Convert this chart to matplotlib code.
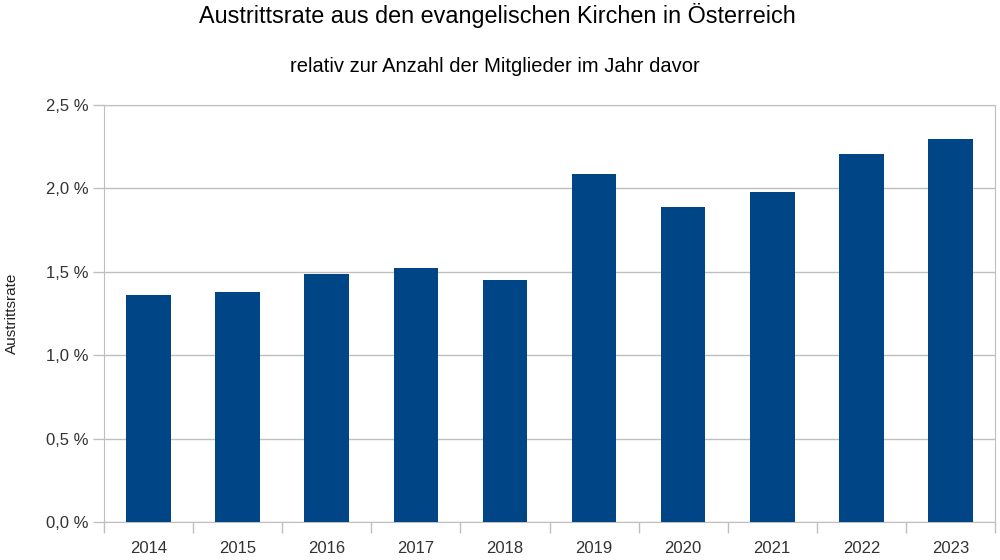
import matplotlib.pyplot as plt
import numpy as np

plt.rcParams['font.family'] = ['Liberation Sans', 'DejaVu Sans']

years = ['2014', '2015', '2016', '2017', '2018', '2019', '2020', '2021', '2022', '2023']
rate = [1.363, 1.380, 1.484, 1.520, 1.450, 2.083, 1.889, 1.977, 2.203, 2.295]
yticks = [0.0, 0.5, 1.0, 1.5, 2.0, 2.5]
ytick_labels = ['0,0 %', '0,5 %', '1,0 %', '1,5 %', '2,0 %', '2,5 %']

fig = plt.figure(figsize=(10, 5.6), dpi=100)
ax = fig.add_axes([0.104, 0.068, 0.891, 0.7446])

x = np.arange(len(years))
ax.bar(x, rate, width=0.5, color='#004586', zorder=3)

ax.set_xlim(-0.5, len(years) - 0.5)
ax.set_ylim(0, 2.5)
ax.set_yticks(yticks)
ax.set_yticklabels(ytick_labels, fontsize=12, color='#333333')
ax.set_xticks(x)
ax.set_xticklabels(years, fontsize=12, color='#333333')
ax.set_xticks(np.arange(-0.5, len(years)), minor=True)
ax.tick_params(axis='x', which='major', length=0, pad=14)
ax.tick_params(axis='x', which='minor', length=8, color='#bfbfbf', width=1)
ax.tick_params(axis='y', length=8, color='#bfbfbf', width=1, pad=3)

ax.grid(axis='y', color='#bfbfbf', linewidth=1, zorder=0)
for s in ax.spines.values():
    s.set_color('#bfbfbf')

ax.set_ylabel('Austrittsrate', fontsize=11, color='#222222')
ax.yaxis.set_label_coords(-0.095, 0.5)

fig.text(0.497, 0.972, 'Austrittsrate aus den evangelischen Kirchen in Österreich',
         ha='center', va='center', fontsize=16.8)
fig.text(0.495, 0.882, 'relativ zur Anzahl der Mitglieder im Jahr davor',
         ha='center', va='center', fontsize=14.5)

fig.savefig('out.png', dpi=100)
